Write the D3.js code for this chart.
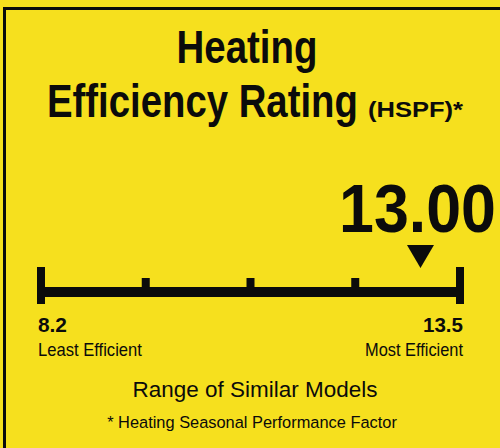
<!DOCTYPE html>
<html>
<head>
<meta charset="utf-8">
<script src="https://cdn.jsdelivr.net/npm/d3@7"></script>
<style>
  body { margin: 0; background: #f6e01e; }
  svg { display: block; font-family: "Liberation Sans", Arial, sans-serif; }
</style>
</head>
<body>
<script>
// Heating efficiency label

// chart values
var titleLines = ["Heating", "Efficiency Rating"];
var unitLabel = "(HSPF)*";
var rangeValues = [8.2, 13.5];
var rangeLabels = ["8.2", "13.5"];
var endLabels = ["Least Efficient", "Most Efficient"];
var ratingValue = 13.00;
var ratingLabel = "13.00";
var segmentCount = 4;
var captionLines = ["Range of Similar Models", "* Heating Seasonal Performance Factor"];

var svgWidth = 500;
var svgHeight = 448;
var ink = "#0b0b0b";

var svg = d3.select("body")
  .append("svg")
  .attr("width", svgWidth)
  .attr("height", svgHeight);

// background + border (top and left only)
svg.append("rect")
  .attr("width", svgWidth)
  .attr("height", svgHeight)
  .attr("fill", "#f6e01e");

svg.append("path")
  .attr("d", "M4.5," + svgHeight + " V8.5 H" + svgWidth)
  .attr("fill", "none")
  .attr("stroke", ink)
  .attr("stroke-width", 3);

// scale for the range bar
var x = d3.scaleLinear()
  .domain(rangeValues)
  .range([41, 460]);

var barY = 287;
var barH = 10;

// main bar
svg.append("rect")
  .attr("x", x(rangeValues[0]))
  .attr("y", barY)
  .attr("width", x(rangeValues[1]) - x(rangeValues[0]))
  .attr("height", barH)
  .attr("fill", ink);

// end caps
svg.selectAll(".cap")
  .data(rangeValues)
  .enter()
  .append("rect")
  .attr("class", "cap")
  .attr("x", d => x(d) - 4)
  .attr("y", 267)
  .attr("width", 8)
  .attr("height", 37)
  .attr("fill", ink);

// inner ticks
var step = (rangeValues[1] - rangeValues[0]) / segmentCount;
var innerTicks = d3.range(1, segmentCount).map(i => rangeValues[0] + i * step);

svg.selectAll(".tick")
  .data(innerTicks)
  .enter()
  .append("rect")
  .attr("class", "tick")
  .attr("x", d => x(d) - 4)
  .attr("y", 278)
  .attr("width", 8)
  .attr("height", barY - 278 + 1)
  .attr("fill", ink);

// marker triangle
var mx = x(ratingValue);
svg.append("path")
  .attr("d", "M" + (mx - 13.5) + ",245 L" + (mx + 13.5) + ",245 L" + mx + ",268 Z")
  .attr("fill", ink);

// helper for text: squeeze horizontally to the width seen on the label
function addText(str, px, py, size, weight, anchor, len) {
  var g = svg.append("g");
  var t = g.append("text")
    .attr("fill", ink)
    .attr("font-size", size)
    .attr("font-weight", weight)
    .attr("text-anchor", anchor)
    .text(str);
  var sx = 1;
  if (len) {
    var w = t.node().getComputedTextLength();
    if (w > 0) sx = len / w;
  }
  g.attr("transform", "translate(" + px + "," + py + ") scale(" + sx + ",1)");
  return t;
}

// titles
addText(titleLines[0], 247, 63, 47, "bold", "middle", 141);
addText(titleLines[1], 47, 117, 47, "bold", "start", 311);
addText(unitLabel, 368, 117, 22, "bold", "start", 95);

// rating value
addText(ratingLabel, 496, 232, 68, "bold", "end", 157);

// end labels
addText(rangeLabels[0], 38, 332, 21, "bold", "start", 29);
addText(endLabels[0], 38, 356, 18, "normal", "start", 104);
addText(rangeLabels[1], 463, 332, 21, "bold", "end", 40);
addText(endLabels[1], 463, 356, 18, "normal", "end", 98);

// captions
addText(captionLines[0], 255, 397, 23, "normal", "middle", 245);
addText(captionLines[1], 252, 428, 17, "normal", "middle", 290);
</script>
</body>
</html>
